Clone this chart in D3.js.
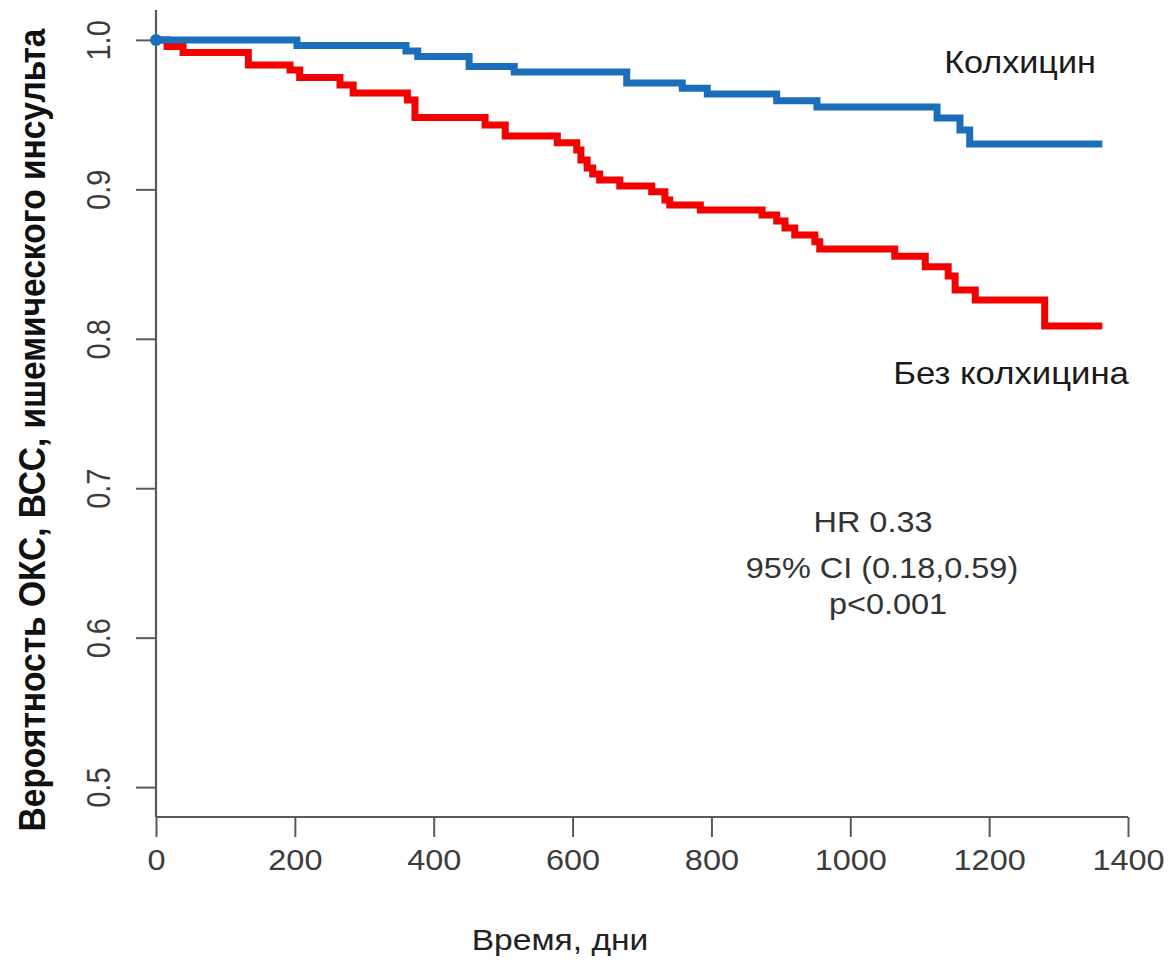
<!DOCTYPE html>
<html>
<head>
<meta charset="utf-8">
<script src="https://cdn.jsdelivr.net/npm/d3@7"></script>
<style>
  html, body { margin: 0; padding: 0; background: #fff; }
  svg { display: block; font-family: "Liberation Sans", Arial, Helvetica, sans-serif; }
</style>
</head>
<body>
<svg id="chart" width="1171" height="963"></svg>
<script>
// Kaplan–Meier step data: event days and survival after each event
const colchicineDays = [0, 203, 360, 377, 451, 516, 678, 758, 794, 894, 952, 1125, 1158, 1172, 1363];
const colchicineSurv = [1.0, 0.9963, 0.9926, 0.9889, 0.9822, 0.9785, 0.9711, 0.9677, 0.9638, 0.9593, 0.9551, 0.9477, 0.9397, 0.9303, 0.9303];

const controlDays = [0, 16, 39, 133, 193, 207, 265, 284, 362, 373, 474, 503, 578, 606, 612, 621, 629, 639, 668, 714, 733, 740, 784, 873, 894, 906, 920, 949, 956, 1064, 1108, 1141, 1151, 1180, 1280, 1363];
const controlSurv = [1.0, 0.9956, 0.9916, 0.9832, 0.9798, 0.9748, 0.9698, 0.9644, 0.9598, 0.9480, 0.9430, 0.9357, 0.9312, 0.9263, 0.9196, 0.9142, 0.9102, 0.9062, 0.9022, 0.8984, 0.8928, 0.8895, 0.8861, 0.8828, 0.8788, 0.8741, 0.8694, 0.8649, 0.8600, 0.8553, 0.8482, 0.8420, 0.8326, 0.8259, 0.8085, 0.8085];

const xTicks = [0, 200, 400, 600, 800, 1000, 1200, 1400];
const yTicks = [0.5, 0.6, 0.7, 0.8, 0.9, 1.0];

const groupLabels = ["Колхицин", "Без колхицина"];
const statsLines = ["HR 0.33", "95% CI (0.18,0.59)", "p<0.001"];
const xTitle = "Время, дни";
const yTitle = "Вероятность ОКС, ВСС, ишемического инсульта";

const svg = d3.select("#chart");
const SX = 1.12; // horizontal stretch of the lettering

const x = d3.scaleLinear().domain([0, 1400]).range([156, 1128]);
const y = d3.scaleLinear().domain([0.48, 1.02]).range([817, 10]);

const axisColor = "#5a5a5a";
const labelColor = "#3c3c3c";

// L-shaped frame
svg.append("line").attr("x1", x(0)).attr("x2", x(0)).attr("y1", y(1.02)).attr("y2", y(0.48))
  .attr("stroke", axisColor).attr("stroke-width", 2.2);
svg.append("line").attr("x1", x(0)).attr("x2", x(1400)).attr("y1", y(0.48)).attr("y2", y(0.48))
  .attr("stroke", axisColor).attr("stroke-width", 2.2);

// X axis
const xAxis = d3.axisBottom(x).tickValues(xTicks).tickSize(20).tickFormat(d3.format("d"));
const gx = svg.append("g").attr("transform", `translate(0,${y(0.48)})`).call(xAxis);
gx.select(".domain").remove();
gx.selectAll(".tick line").attr("stroke", axisColor).attr("stroke-width", 2);
gx.selectAll(".tick text").remove();
gx.selectAll(".tick").append("text")
  .attr("transform", `translate(0,53) scale(${SX},1)`)
  .attr("text-anchor", "middle")
  .attr("fill", labelColor)
  .style("font-size", "29px")
  .text(d => d3.format("d")(d));

// Y axis
const yAxis = d3.axisLeft(y).tickValues(yTicks).tickSize(20).tickFormat(d3.format(".1f"));
const gy = svg.append("g").attr("transform", `translate(${x(0)},0)`).call(yAxis);
gy.select(".domain").remove();
gy.selectAll(".tick line").attr("stroke", axisColor).attr("stroke-width", 2);
gy.selectAll(".tick text").remove();
gy.selectAll(".tick").append("text")
  .attr("transform", `translate(-46,0) scale(${SX},1) rotate(-90)`)
  .attr("text-anchor", "middle")
  .attr("fill", labelColor)
  .style("font-size", "29px")
  .text(d => d3.format(".1f")(d));

// Axis titles
svg.append("text")
  .attr("transform", `translate(${560},${950}) scale(${SX},1)`)
  .attr("text-anchor", "middle")
  .attr("fill", "#222")
  .style("font-size", "30px")
  .text(xTitle);

svg.append("text")
  .attr("transform", `translate(${45},${430}) scale(${SX},1) rotate(-90)`)
  .attr("text-anchor", "middle")
  .attr("fill", "#111")
  .style("font-size", "33.5px")
  .style("font-weight", "bold")
  .text(yTitle);

// Survival curves
const line = d3.line().x(d => x(d[0])).y(d => y(d[1])).curve(d3.curveStepAfter);
const controlPts = d3.zip(controlDays, controlSurv);
const colchicinePts = d3.zip(colchicineDays, colchicineSurv);

svg.append("path").datum(controlPts).attr("d", line)
  .attr("fill", "none").attr("stroke", "#f40000").attr("stroke-width", 7)
  .attr("stroke-linejoin", "miter").attr("stroke-linecap", "butt");
svg.append("path").datum(colchicinePts).attr("d", line)
  .attr("fill", "none").attr("stroke", "#1c6ebb").attr("stroke-width", 7)
  .attr("stroke-linejoin", "miter").attr("stroke-linecap", "butt");
svg.append("circle").attr("cx", x(colchicineDays[0])).attr("cy", y(colchicineSurv[0]))
  .attr("r", 6).attr("fill", "#1c6ebb");

// Group labels
svg.append("text")
  .attr("transform", `translate(${1020},${73}) scale(${SX},1)`)
  .attr("text-anchor", "middle").attr("fill", "#1a1a1a").style("font-size", "30.5px")
  .text(groupLabels[0]);
svg.append("text")
  .attr("transform", `translate(${1011},${384}) scale(${SX},1)`)
  .attr("text-anchor", "middle").attr("fill", "#1a1a1a").style("font-size", "31px")
  .text(groupLabels[1]);

// Hazard ratio annotation
const statsX = [873, 882, 888];
const statsY = [532, 578, 614];
statsLines.forEach((t, i) => {
  svg.append("text")
    .attr("transform", `translate(${statsX[i]},${statsY[i]}) scale(${SX},1)`)
    .attr("text-anchor", "middle").attr("fill", "#333").style("font-size", "29px")
    .text(t);
});
</script>
</body>
</html>
